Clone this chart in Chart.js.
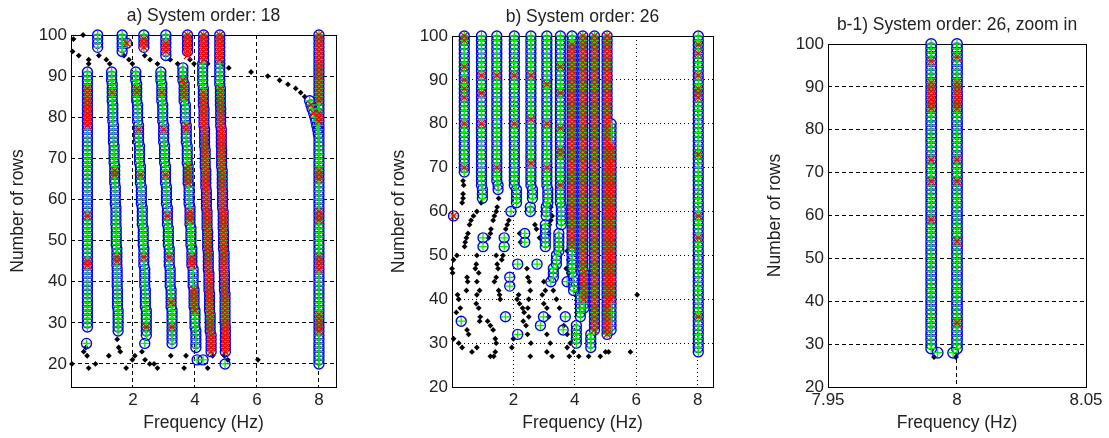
<!DOCTYPE html>
<html>
<head>
<meta charset="utf-8">
<title>Stabilization diagrams</title>
<script src="https://cdn.jsdelivr.net/npm/chart.js@4.4.1/dist/chart.umd.min.js"></script>
<style>
  html, body { margin: 0; padding: 0; background: #fff; }
  #wrap { position: relative; width: 1109px; height: 438px; }
  #wrap canvas { position: absolute; left: 0; top: 0; }
</style>
</head>
<body>
<div id="wrap">
  <canvas id="chartA" width="1109" height="438"></canvas>
  <canvas id="chartB" width="1109" height="438"></canvas>
  <canvas id="chartC" width="1109" height="438"></canvas>
</div>
<script>
// ---- data ----
// stable poles: [frequency Hz, first row, last row] -> one pole per row
// red markers use the same layout; poles are single [frequency, row] pairs

const yTicks = [20, 30, 40, 50, 60, 70, 80, 90, 100];
const xTicksAB = [2, 4, 6, 8];
const xTicksC = [7.95, 8, 8.05];
const xLabelsC = ['7.95', '8', '8.05'];

const stableA = [
  [0.53, 29, 91], [0.50, 25, 25], [0.86, 97, 100],
  [1.31, 89, 91], [1.33, 84, 88], [1.35, 79, 83], [1.37, 74, 78], [1.39, 69, 73], [1.41, 64, 68], [1.43, 59, 63],
  [1.45, 54, 58], [1.46, 49, 53], [1.48, 44, 48], [1.49, 39, 43], [1.50, 34, 38], [1.52, 28, 33],
  [1.65, 96, 100], [1.80, 98, 98],
  [2.09, 89, 91], [2.12, 84, 88], [2.15, 79, 83], [2.18, 74, 78], [2.21, 69, 73], [2.24, 64, 68], [2.27, 59, 63],
  [2.30, 54, 58], [2.33, 49, 53], [2.35, 44, 48], [2.38, 39, 43], [2.40, 34, 38], [2.43, 27, 33], [2.38, 25, 25],
  [2.35, 97, 100],
  [2.90, 89, 91], [2.93, 84, 88], [2.96, 79, 83], [2.99, 74, 78], [3.02, 69, 73], [3.05, 64, 68], [3.08, 59, 63],
  [3.11, 54, 58], [3.14, 49, 53], [3.17, 44, 48], [3.20, 39, 43], [3.23, 34, 38], [3.26, 25, 33],
  [3.06, 95, 100],
  [3.61, 89, 92], [3.65, 84, 88], [3.69, 79, 83], [3.72, 74, 78], [3.75, 69, 73], [3.78, 64, 68], [3.81, 59, 63],
  [3.84, 54, 58], [3.87, 49, 53], [3.90, 44, 48], [3.94, 39, 43], [3.97, 34, 38], [4.00, 29, 33], [4.03, 24, 28],
  [3.76, 96, 100],
  [4.28, 94, 100], [4.25, 88, 93], [4.27, 83, 87], [4.29, 78, 82], [4.31, 73, 77], [4.33, 68, 72], [4.35, 63, 67],
  [4.37, 58, 62], [4.39, 53, 57], [4.41, 48, 52], [4.43, 43, 47], [4.45, 38, 42], [4.47, 33, 37], [4.49, 28, 32], [4.52, 23, 27],
  [4.07, 21, 21], [4.26, 21, 21],
  [4.80, 88, 100], [4.82, 83, 87], [4.83, 78, 82], [4.85, 73, 77], [4.86, 68, 72], [4.88, 63, 67], [4.89, 58, 62],
  [4.91, 53, 57], [4.92, 48, 52], [4.94, 43, 47], [4.95, 38, 42], [4.97, 30, 37], [4.98, 23, 29], [4.97, 20, 20],
  [8.00, 20, 100],
  [7.70, 84, 84], [7.74, 83, 83], [7.78, 82, 82], [7.83, 81, 81], [7.87, 80, 80], [7.90, 79, 79], [7.93, 78, 78], [7.96, 77, 77], [7.98, 76, 76]
];

const redA = [
  [0.53, 78, 87], [0.53, 56, 56], [0.53, 44, 45],
  [1.33, 86, 86], [1.41, 66, 67], [1.48, 45, 46],
  [2.12, 86, 87], [2.18, 77, 77], [2.24, 66, 66], [2.35, 46, 46], [2.43, 29, 29],
  [2.93, 86, 86], [2.99, 77, 77], [3.05, 66, 66], [3.11, 56, 56], [3.17, 46, 46], [3.23, 35, 35], [3.26, 29, 29],
  [3.61, 89, 89], [3.65, 85, 88], [3.72, 77, 78], [3.78, 64, 68], [3.84, 55, 57], [3.90, 44, 46], [3.97, 34, 38], [4.00, 33, 33],
  [1.80, 98, 98], [2.35, 97, 99], [3.06, 96, 98], [3.76, 95, 100],
  [4.28, 94, 100], [4.27, 83, 86], [4.29, 78, 82], [4.31, 73, 77], [4.33, 68, 72], [4.35, 63, 67],
  [4.37, 58, 62], [4.39, 53, 57], [4.41, 48, 52], [4.43, 43, 47], [4.45, 38, 42], [4.47, 33, 37], [4.49, 28, 32], [4.52, 23, 27],
  [4.80, 94, 100], [4.82, 83, 87], [4.83, 78, 82], [4.85, 73, 77], [4.86, 68, 72], [4.88, 63, 67], [4.89, 58, 62],
  [4.91, 53, 57], [4.92, 48, 52], [4.94, 43, 47], [4.95, 38, 42], [4.97, 30, 37], [4.98, 23, 29],
  [8.00, 84, 100], [8.00, 79, 81], [8.00, 65, 67], [8.00, 55, 57], [8.00, 43, 46], [8.00, 28, 32],
  [7.74, 83, 83], [7.83, 81, 81]
];

const polesA = [
  [0.08, 99], [0.39, 100], [0.05, 96], [0.25, 95], [0.57, 94], [0.57, 93],
  [0.90, 95], [1.14, 94], [1.25, 93], [1.71, 95], [1.87, 94], [1.98, 93],
  [2.38, 95], [2.55, 94], [2.79, 93], [3.20, 94], [3.44, 93], [3.84, 94], [3.97, 93],
  [4.41, 93], [4.89, 93], [5.09, 92], [5.81, 91], [6.35, 90], [6.73, 89], [7.00, 88],
  [7.25, 87], [7.41, 86], [7.54, 85],
  [0.03, 20], [0.41, 23], [0.48, 24], [0.52, 22], [0.57, 19], [0.79, 20], [1.22, 22],
  [1.49, 26], [1.54, 24], [1.59, 23], [1.78, 19], [1.98, 21], [2.06, 22], [2.29, 23],
  [2.39, 21], [2.54, 20], [2.68, 20], [2.79, 19], [3.22, 22], [3.65, 19], [3.71, 22],
  [4.41, 19], [4.57, 22], [4.95, 22], [5.06, 21], [6.03, 21]
];

const stableB = [
  [0.40, 69, 100], [0.05, 59, 59], [0.30, 35, 35],
  [0.96, 66, 100], [0.99, 63, 65], [1.01, 52, 52], [1.01, 54, 54],
  [1.46, 67, 100], [1.50, 65, 66], [1.70, 52, 52], [1.70, 54, 54], [1.74, 36, 36],
  [2.03, 66, 100], [2.10, 62, 65], [1.92, 60, 60], [1.88, 43, 43], [1.88, 45, 45], [2.14, 48, 48], [2.14, 32, 32],
  [2.57, 66, 100], [2.62, 63, 65], [2.55, 60, 61], [2.37, 53, 53], [2.37, 55, 55], [2.77, 48, 48], [2.88, 34, 34], [2.98, 36, 36],
  [3.09, 66, 100], [3.12, 62, 65], [3.07, 59, 61], [3.04, 52, 57],
  [3.53, 62, 100], [3.56, 57, 61], [3.48, 51, 55], [3.40, 48, 50], [3.30, 45, 47], [3.22, 44, 44],
  [3.69, 36, 36], [3.62, 33, 33], [3.75, 44, 44],
  [3.91, 46, 100], [3.96, 42, 45], [4.05, 30, 34], [4.18, 36, 41],
  [4.26, 47, 100], [4.30, 38, 46],
  [4.64, 33, 100], [4.52, 29, 32],
  [5.05, 32, 100], [5.18, 33, 80],
  [8.02, 28, 100]
];

const redB = [
  [0.40, 99, 100], [0.40, 93, 93], [0.40, 90, 90], [0.40, 88, 88], [0.40, 86, 86], [0.40, 80, 80], [0.40, 70, 70], [0.05, 59, 59],
  [0.96, 91, 91], [0.96, 87, 87], [0.96, 80, 80],
  [1.46, 91, 91], [1.46, 70, 70],
  [2.03, 91, 91], [2.03, 80, 80],
  [2.57, 91, 91], [2.57, 81, 81], [2.57, 71, 71],
  [3.09, 89, 89], [3.09, 80, 80], [3.09, 70, 70],
  [3.53, 93, 93], [3.53, 87, 87], [3.53, 79, 79], [3.53, 73, 74], [3.53, 66, 66],
  [3.91, 52, 98], [4.26, 47, 100], [4.30, 40, 46],
  [4.64, 33, 100], [5.05, 32, 100], [5.18, 40, 75],
  [8.02, 98, 98], [8.02, 96, 96], [8.02, 91, 91], [8.02, 86, 88], [8.02, 73, 73], [8.02, 59, 59], [8.02, 54, 54], [8.02, 36, 36]
];

const polesB = [
  [0.36, 67], [0.38, 66], [0.36, 64], [0.36, 63], [0.33, 62],
  [0.95, 62], [0.81, 60], [0.70, 59], [0.62, 58], [0.57, 57], [0.52, 55], [0.47, 54], [0.43, 53], [0.41, 52],
  [0.16, 50], [0.05, 49], [0.00, 47], [0.02, 46],
  [0.49, 45], [0.51, 44], [0.47, 42],
  [0.18, 41], [0.22, 40], [0.27, 38], [0.14, 37],
  [0.05, 31], [0.22, 30], [0.33, 29], [0.49, 33], [0.54, 32], [0.65, 28], [0.81, 29],
  [0.81, 50], [0.79, 48], [0.76, 47], [0.87, 46], [0.81, 44], [0.90, 42],
  [0.81, 41], [0.79, 39], [0.87, 38], [0.92, 36], [0.90, 35],
  [1.25, 27], [1.36, 27], [1.41, 28], [1.44, 30], [1.41, 31], [1.34, 33], [1.25, 34], [1.16, 35],
  [1.52, 63], [1.47, 61], [1.44, 60], [1.38, 59], [1.34, 58], [1.27, 56], [1.25, 55], [1.19, 54],
  [1.44, 50], [1.47, 48], [1.50, 47], [1.44, 45], [1.38, 44],
  [1.52, 42], [1.55, 41], [1.57, 40],
  [1.85, 58], [1.80, 57], [1.75, 56], [1.66, 50], [1.62, 49],
  [2.17, 41], [2.12, 40], [2.20, 39], [2.30, 38], [2.35, 37], [2.32, 35], [2.41, 34], [2.46, 32], [2.57, 30],
  [2.00, 31], [1.95, 29],
  [2.44, 47], [2.47, 45], [2.52, 44], [2.55, 42], [2.50, 40], [2.47, 38], [2.50, 36],
  [2.70, 57], [2.75, 56], [2.85, 54], [2.20, 55], [2.23, 53],
  [2.99, 44], [3.04, 42], [2.94, 41], [2.99, 39], [3.09, 38], [3.15, 36], [3.09, 32], [3.20, 30],
  [3.22, 61], [3.26, 59], [3.22, 58], [3.17, 57], [3.15, 55],
  [3.30, 42], [3.40, 40], [3.50, 38],
  [3.64, 34], [3.75, 32], [3.85, 30], [3.96, 28],
  [3.75, 51], [3.80, 49], [3.72, 47], [3.80, 46],
  [2.55, 27], [3.09, 28], [3.26, 27], [3.75, 29], [3.82, 27], [4.13, 27], [4.45, 27],
  [4.83, 27], [5.00, 28], [5.10, 28], [5.81, 28], [6.03, 41]
];

const stableC = [[7.990, 29, 100], [7.9925, 28, 28], [8.000, 29, 100], [7.9985, 28, 28]];
const redC = [
  [7.990, 96, 96], [7.990, 85, 91], [7.990, 73, 73], [7.990, 68, 68], [7.990, 59, 59],
  [8.000, 97, 97], [8.000, 85, 91], [8.000, 73, 73], [8.000, 68, 68], [8.000, 54, 54], [8.000, 35, 35]
];
const polesC = [[7.9911, 27], [7.9996, 27]];

// ---- drawing ----
const FONT = "'Liberation Sans', Arial, sans-serif";
const W = 1109, H = 438;
const Y_AXIS_W = 60, X_AXIS_H = 40;

Chart.defaults.font.family = FONT;
Chart.defaults.color = '#222';

function expand(segs) {
  const pts = [];
  segs.forEach(([f, from, to]) => {
    for (let r = from; r <= to; r++) pts.push({ x: f, y: r });
  });
  return pts;
}

// axes box plus title / axis titles, MATLAB style
const framePlugin = {
  id: 'frame',
  beforeDatasetsDraw(chart) {
    const { ctx, chartArea: a } = chart;
    ctx.save();
    ctx.strokeStyle = '#000';
    ctx.lineWidth = 1;
    ctx.strokeRect(Math.round(a.left) + 0.5, Math.round(a.top) + 0.5,
      Math.round(a.right - a.left), Math.round(a.bottom - a.top));
    ctx.restore();
  },
  afterDraw(chart, args, opts) {
    const { ctx, chartArea: a } = chart;
    const cx = (a.left + a.right) / 2;
    ctx.save();
    ctx.fillStyle = '#222';
    ctx.textAlign = 'center';
    ctx.textBaseline = 'middle';
    ctx.font = `17.5px ${FONT}`;
    ctx.fillText(opts.title, cx, a.top - 19);
    ctx.fillText('Frequency (Hz)', cx, a.bottom + 36);
    ctx.translate(a.left - 53, (a.top + a.bottom) / 2);
    ctx.rotate(-Math.PI / 2);
    ctx.fillText('Number of rows', 0, 0);
    ctx.restore();
  }
};

function buildChart(id, o) {
  const r = o.markerScale || 1;
  return new Chart(document.getElementById(id), {
    type: 'scatter',
    data: {
      datasets: [
        { label: 'mode shape', data: expand(o.red), order: 0, pointStyle: 'crossRot',
          pointRadius: 5 * r, pointBorderColor: '#ff0000', pointBackgroundColor: '#ff0000', pointBorderWidth: 1.3, clip: false },
        { label: 'damping', data: expand(o.stable), order: 1, pointStyle: 'cross',
          pointRadius: 4.2 * r, pointBorderColor: '#00ee00', pointBackgroundColor: '#00ee00', pointBorderWidth: 1.3, clip: false },
        { label: 'frequency', data: expand(o.stable), order: 2, pointStyle: 'circle',
          pointRadius: 5 * r, pointBorderColor: '#0000ff', pointBackgroundColor: 'rgba(0,0,0,0)', pointBorderWidth: 1.4, clip: false },
        { label: 'poles', data: o.poles.map(([f, row]) => ({ x: f, y: row })), order: 3, pointStyle: 'rectRot',
          pointRadius: 2.9, pointBorderColor: '#000', pointBackgroundColor: '#000', pointBorderWidth: 0, clip: false }
      ]
    },
    options: {
      responsive: false,
      maintainAspectRatio: false,
      animation: false,
      devicePixelRatio: 1,
      events: [],
      layout: {
        padding: {
          left: o.box.left - Y_AXIS_W,
          right: W - o.box.right,
          top: o.box.top,
          bottom: H - o.box.bottom - X_AXIS_H
        }
      },
      plugins: {
        legend: { display: false },
        tooltip: { enabled: false },
        frame: { title: o.title }
      },
      scales: {
        x: {
          type: 'linear', min: o.xMin, max: o.xMax,
          afterBuildTicks: s => { s.ticks = o.xTicks.map(v => ({ value: v })); },
          afterFit: s => { s.height = X_AXIS_H; },
          ticks: { padding: 3, autoSkip: false, maxRotation: 0, font: { size: 17 }, color: '#222',
                   callback: (v, i) => o.xLabels[i] },
          grid: { color: '#000', lineWidth: 1, drawTicks: false },
          border: { display: false, dash: o.dash }
        },
        y: {
          type: 'linear', min: o.yMin, max: 100,
          afterBuildTicks: s => { s.ticks = yTicks.map(v => ({ value: v })); },
          afterFit: s => { s.width = Y_AXIS_W; },
          ticks: { padding: 4, autoSkip: false, font: { size: 17 }, color: '#222',
                   callback: (v, i) => String(yTicks[i]) },
          grid: { color: '#000', lineWidth: 1, drawTicks: false },
          border: { display: false, dash: o.dash }
        }
      }
    },
    plugins: [framePlugin]
  });
}

buildChart('chartA', {
  title: 'a) System order: 18',
  box: { left: 71, right: 336, top: 35, bottom: 387 },
  xMin: 0, xMax: 8.55, yMin: 14.4,
  xTicks: xTicksAB, xLabels: xTicksAB.map(String),
  stable: stableA, red: redA, poles: polesA,
  dash: [4, 3]
});

buildChart('chartB', {
  title: 'b) System order: 26',
  box: { left: 452, right: 713, top: 36, bottom: 387 },
  xMin: 0, xMax: 8.5, yMin: 20,
  xTicks: xTicksAB, xLabels: xTicksAB.map(String),
  stable: stableB, red: redB, poles: polesB,
  dash: [1, 3]
});

buildChart('chartC', {
  title: 'b-1) System order: 26, zoom in',
  box: { left: 828, right: 1086, top: 44, bottom: 387 },
  xMin: 7.95, xMax: 8.05, yMin: 20,
  xTicks: xTicksC, xLabels: xLabelsC,
  stable: stableC, red: redC, poles: polesC,
  dash: [4, 3], markerScale: 1.06
});
</script>
</body>
</html>
